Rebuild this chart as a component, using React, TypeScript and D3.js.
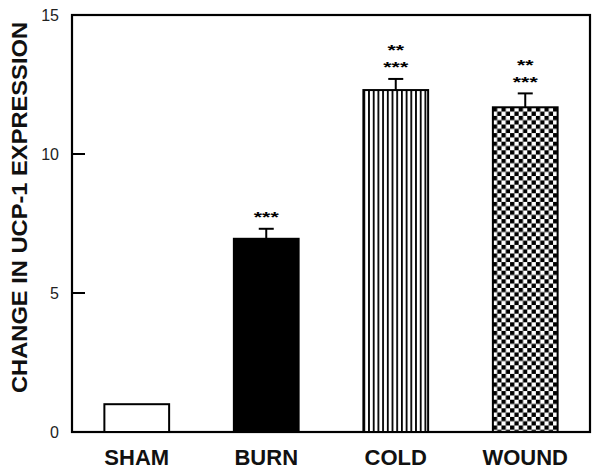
import * as d3 from 'd3'

const groups = ['SHAM', 'BURN', 'COLD', 'WOUND']
const means = [1.0, 6.95, 12.3, 11.68]
const sems = [0, 0.36, 0.4, 0.5]
const stars = [[], ['***'], ['**', '***'], ['**', '***']]
const fills = ['white', 'black', 'url(#stripes)', 'url(#checks)']
const yTicks = [0, 5, 10, 15]

const W = 600
const H = 476
const margin = { top: 15, right: 10, bottom: 44, left: 72 }
const font = '"Liberation Sans", Arial, Helvetica, sans-serif'

export default function App() {
  const x0 = margin.left
  const x1 = W - margin.right
  const y0 = margin.top
  const y1 = H - margin.bottom

  const x = d3.scaleBand<string>().domain(groups).range([x0, x1]).paddingInner(0.5).paddingOuter(0.25)
  const y = d3.scaleLinear().domain([0, 15]).range([y1, y0])
  const bw = x.bandwidth()
  const cell = 4.3

  return (
    <svg width={W} height={H} style={{ position: 'absolute', left: 0, top: 0, background: 'white' }}>
      <defs>
        <pattern id="stripes" patternUnits="userSpaceOnUse" x={x('COLD')} y={0} width={4.7} height={10}>
          <rect width={4.7} height={10} fill="white" />
          <rect x={0} width={1.8} height={10} fill="black" />
        </pattern>
        <pattern id="checks" patternUnits="userSpaceOnUse" x={x('WOUND')} y={y(means[3])} width={cell * 2} height={cell * 2}>
          <rect width={cell * 2} height={cell * 2} fill="white" />
          <rect x={0} y={0} width={cell} height={cell} fill="black" />
          <rect x={cell} y={cell} width={cell} height={cell} fill="black" />
        </pattern>
      </defs>

      <rect x={x0} y={y0} width={x1 - x0} height={y1 - y0} fill="none" stroke="black" strokeWidth={2.2} />

      {yTicks.map((t) => (
        <g key={t}>
          {t > 0 && t < 15 && <line x1={x0} x2={x0 + 13} y1={y(t)} y2={y(t)} stroke="black" strokeWidth={2} />}
          <text x={59} y={y(t)} dy="0.35em" textAnchor="end" fontFamily={font} fontSize={16} fill="#222">
            {t}
          </text>
        </g>
      ))}

      {groups.map((g, i) => {
        const bx = x(g) as number
        const cx = bx + bw / 2
        const top = y(means[i])
        const errTop = y(means[i] + sems[i])
        return (
          <g key={g}>
            {sems[i] > 0 && (
              <g stroke="black" strokeWidth={2}>
                <line x1={cx} x2={cx} y1={top} y2={errTop} />
                <line x1={cx - 7.5} x2={cx + 7.5} y1={errTop} y2={errTop} />
              </g>
            )}
            <rect x={bx} y={top} width={bw} height={y1 - top} fill={fills[i]} stroke="black" strokeWidth={2} />
            {stars[i].map((s, k) => (
              <text
                key={k}
                x={cx}
                y={errTop - (stars[i].length - k === 1 ? 15 : 32) + 8.2}
                textAnchor="middle"
                fontFamily={font}
                fontWeight="bold"
                fontSize={14}
                textLength={8.3 * s.length}
                lengthAdjust="spacingAndGlyphs"
              >
                {s}
              </text>
            ))}
            <text x={cx} y={465} textAnchor="middle" fontFamily={font} fontWeight="bold" fontSize={22} fill="#111">
              {g}
            </text>
          </g>
        )
      })}

      <text
        transform={`translate(27 ${(22 + 393) / 2}) rotate(-90)`}
        textAnchor="middle"
        fontFamily={font}
        fontWeight="bold"
        fontSize={22}
        textLength={371}
        lengthAdjust="spacingAndGlyphs"
        fill="#111"
      >
        CHANGE IN UCP-1 EXPRESSION
      </text>
    </svg>
  )
}
